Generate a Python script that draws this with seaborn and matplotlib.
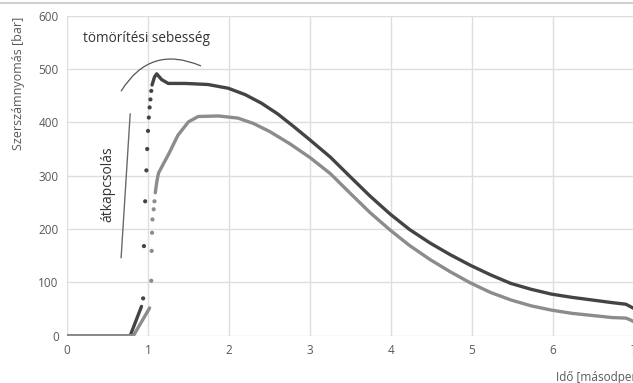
import matplotlib
matplotlib.use("Agg")
import matplotlib.pyplot as plt
import seaborn as sns
from matplotlib.lines import Line2D

# Upper (dark) pressure curve: solid ramp, sparse dots, solid main part
dark_ramp_t = [0.0, 0.78, 0.92]
dark_ramp_p = [0, 0, 55]
dark_dots_t = [0.94, 0.95, 0.965, 0.98, 0.99, 1.00, 1.01, 1.02, 1.03, 1.04]
dark_dots_p = [70, 168, 252, 310, 350, 384, 409, 428, 443, 459]
dark_main_t = [1.05, 1.08, 1.107, 1.17, 1.25, 1.46, 1.74, 1.99, 2.2, 2.4, 2.6, 2.8,
               3.0, 3.25, 3.49, 3.74, 3.99, 4.23, 4.48, 4.73, 4.98, 5.23, 5.48, 5.73,
               5.98, 6.23, 6.48, 6.73, 6.9, 6.95, 7.0]
dark_main_p = [470, 485, 491, 480, 473, 473, 471, 464, 452, 436, 416, 392,
               367, 335, 299, 262, 228, 199, 174, 152, 132, 114, 98, 87,
               78, 72, 67, 62, 59, 55, 51]

# Lower (light) pressure curve
light_ramp_t = [0.0, 0.82, 1.02]
light_ramp_p = [0, 0, 52]
light_dots_t = [1.04, 1.045, 1.05, 1.055, 1.07, 1.08]
light_dots_p = [103, 159, 193, 218, 237, 252]
light_main_t = [1.09, 1.11, 1.13, 1.2, 1.25, 1.37, 1.5, 1.62, 1.87, 2.11, 2.3, 2.5,
                2.75, 3.0, 3.25, 3.49, 3.74, 3.99, 4.23, 4.48, 4.73, 4.98, 5.23, 5.48,
                5.73, 5.98, 6.23, 6.48, 6.73, 6.9, 6.95, 7.0]
light_main_p = [268, 290, 305, 325, 339, 376, 401, 411, 412, 408, 398, 383,
                360, 334, 304, 268, 231, 198, 169, 143, 120, 99, 81, 67,
                56, 48, 42, 38, 34, 33, 30, 26]

x_ticks = [0, 1, 2, 3, 4, 5, 6, 7]
y_ticks = [0, 100, 200, 300, 400, 500, 600]

sns.set_theme(style="whitegrid")
plt.rcParams['font.family'] = ['Open Sans', 'DejaVu Sans']

dark = "#444444"
light = "#8c8c8c"
txt = "#595959"

fig = plt.figure(figsize=(6.33, 3.83), dpi=100)
ax = fig.add_axes([67 / 633, 1 - 335.7 / 383, 567 / 633, 320 / 383])

for t, p, c in [(dark_ramp_t, dark_ramp_p, dark), (dark_main_t, dark_main_p, dark),
                (light_ramp_t, light_ramp_p, light), (light_main_t, light_main_p, light)]:
    sns.lineplot(x=t, y=p, color=c, linewidth=2.4, sort=False, estimator=None, ax=ax)

sns.scatterplot(x=dark_dots_t, y=dark_dots_p, color=dark, s=9, edgecolor="none", ax=ax)
sns.scatterplot(x=light_dots_t, y=light_dots_p, color=light, s=9, edgecolor="none", ax=ax)

ax.set_xlim(0, 7)
ax.set_ylim(0, 600)
ax.set_xticks(x_ticks)
ax.set_yticks(y_ticks)
ax.grid(True, color="#dedede", linewidth=1)
for s in ax.spines.values():
    s.set_visible(False)
ax.tick_params(colors=txt, labelsize=8.5, length=0, pad=6)
ax.set_ylabel("Szerszámnyomás [bar]", color=txt, fontsize=9)
ax.yaxis.set_label_coords(-0.074, 0.787)
ax.set_xlabel("")

# annotations
ax.text(0.2, 557, "tömörítési sebesség", fontsize=9.8, color="#333333", va="center")
ax.annotate("", xy=(1.65, 506), xytext=(0.67, 459),
            arrowprops=dict(arrowstyle="-", color="#555555", lw=0.9,
                            connectionstyle="arc3,rad=-0.43", shrinkA=0, shrinkB=0))
ax.text(0.51, 285, "átkapcsolás", fontsize=10, color="#333333", rotation=90,
        ha="center", va="center")
ax.plot([0.668, 0.78], [146, 416], color="#6a6a6a", lw=1)

fig.text(556 / 633, 1 - 378 / 383, "Idő [másodperc]", fontsize=8.5, color=txt,
         ha="left", va="center")
fig.add_artist(Line2D([0, 1], [1 - 3 / 383, 1 - 3 / 383], color="#d0d0d0", lw=1.5,
                      transform=fig.transFigure))

fig.savefig("out.png", dpi=100)
